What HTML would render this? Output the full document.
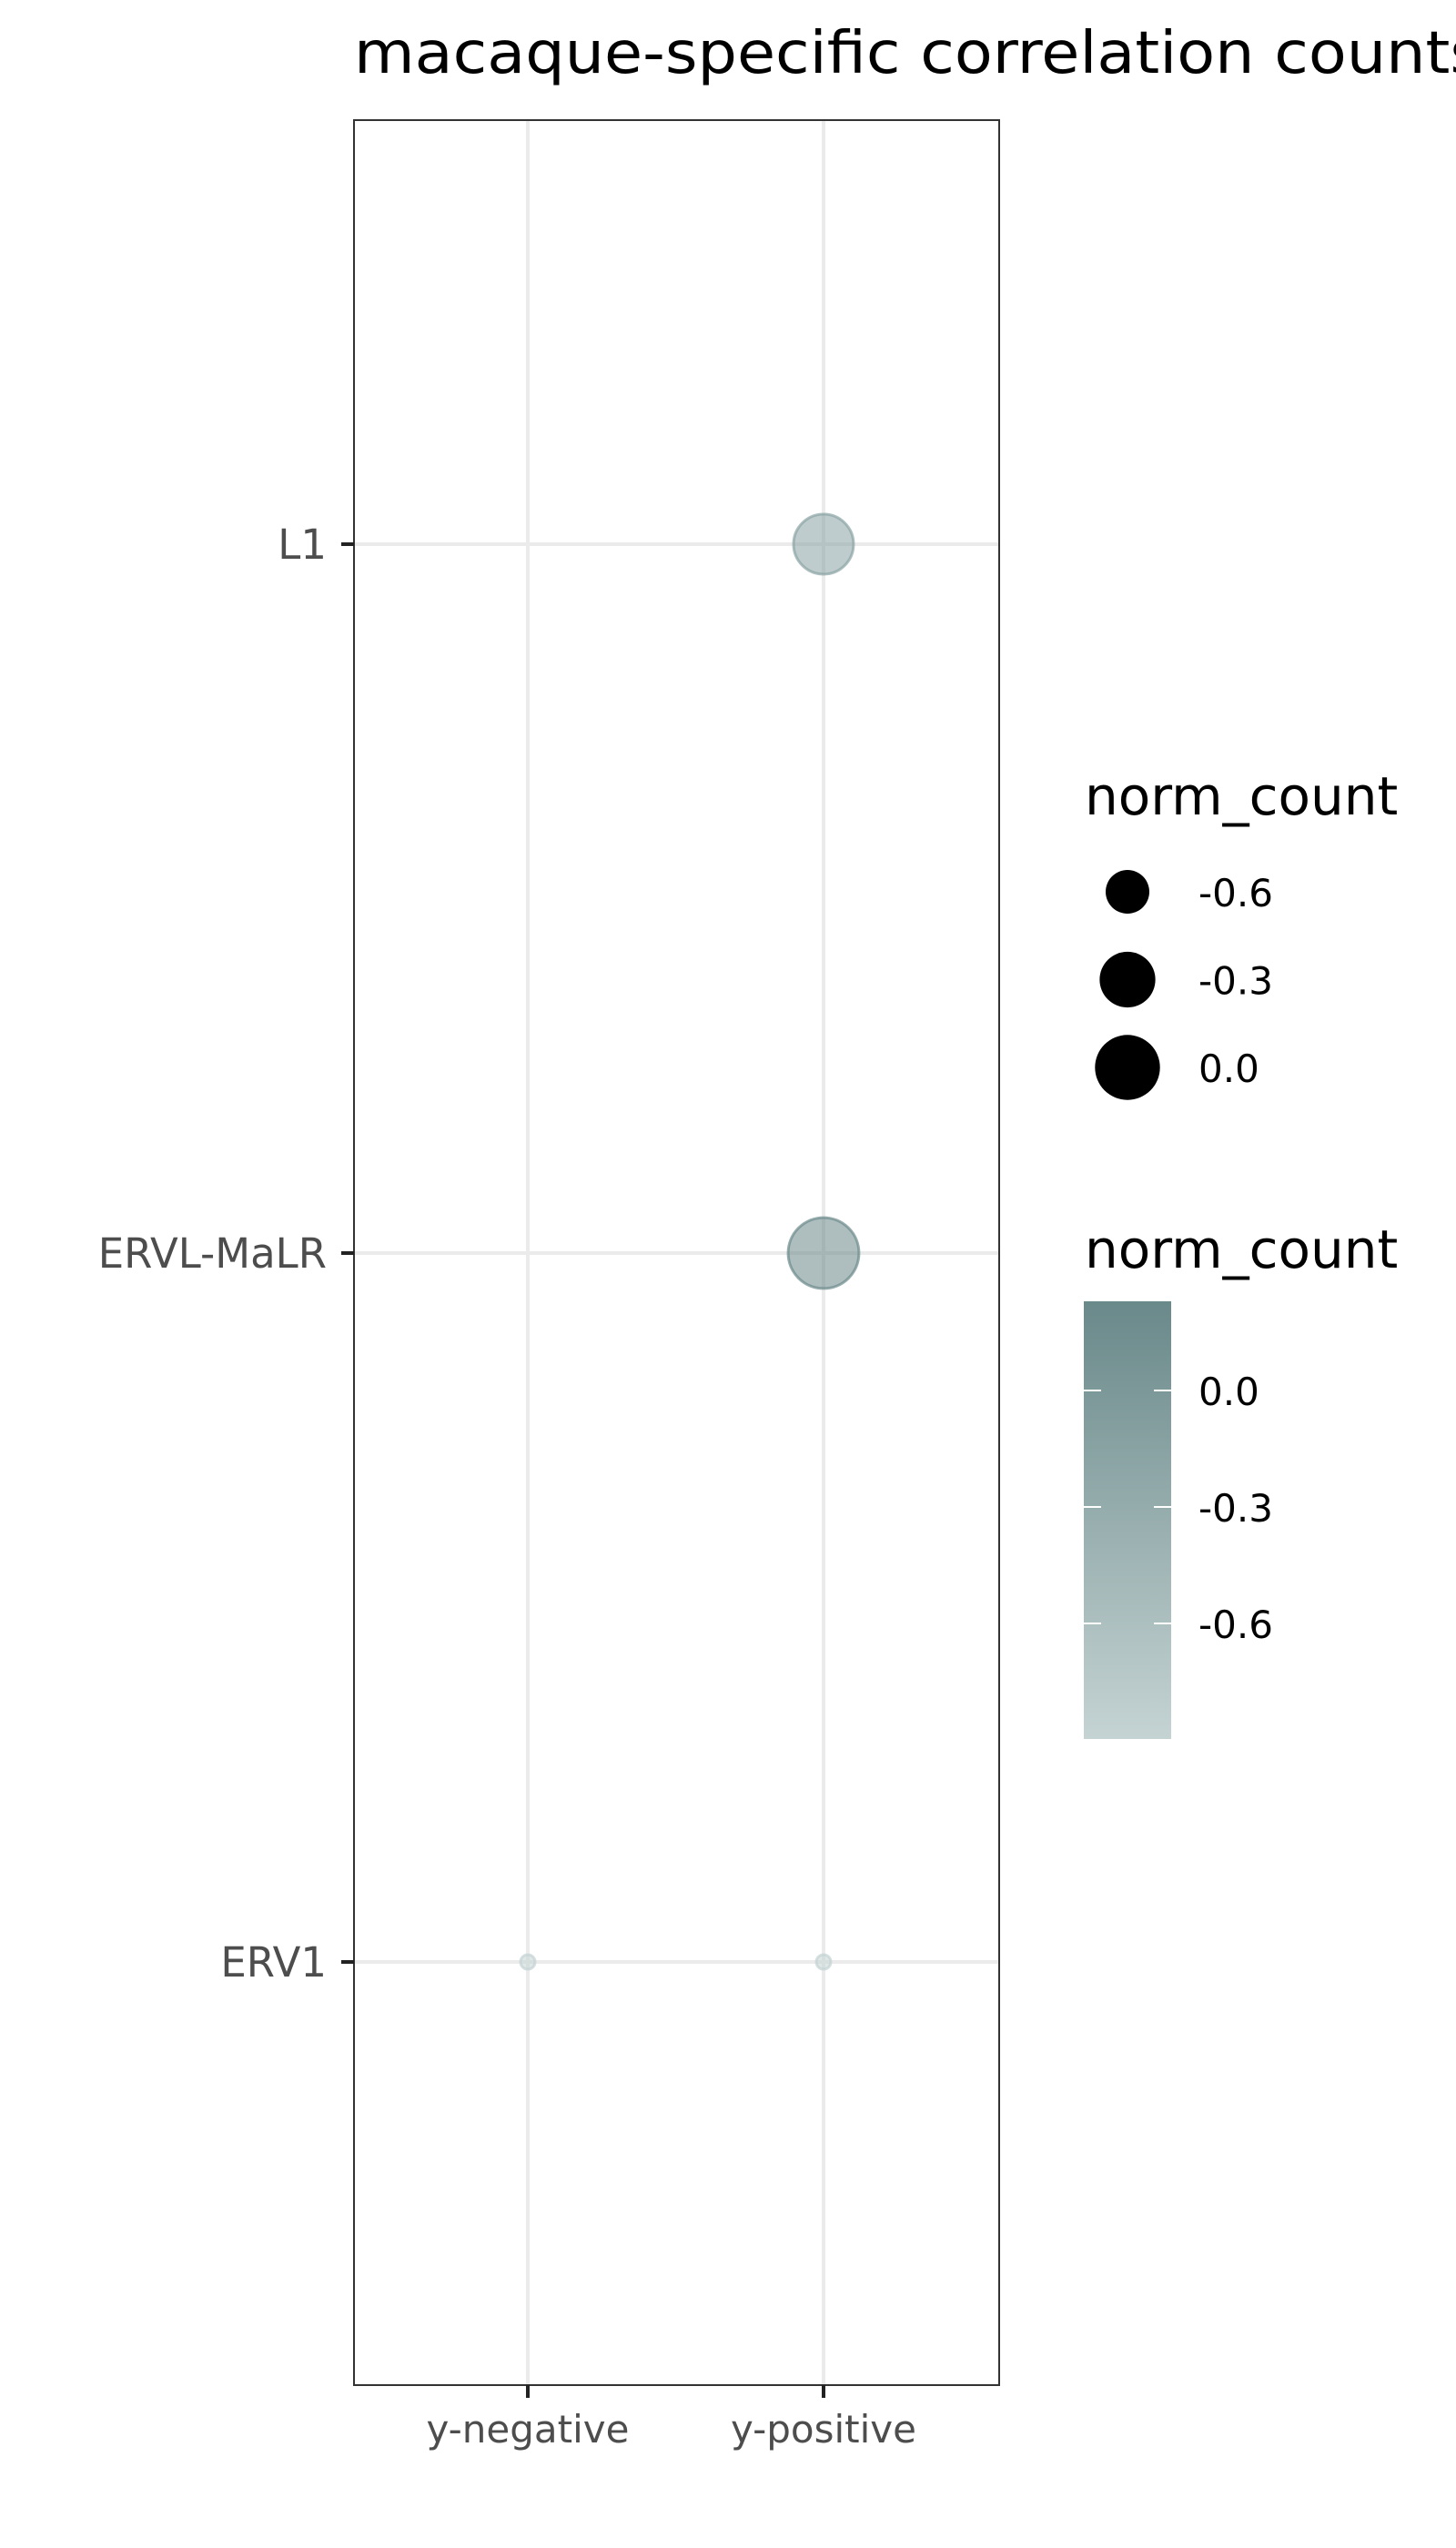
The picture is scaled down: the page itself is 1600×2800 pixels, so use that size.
<!DOCTYPE html>
<html><head><meta charset="utf-8">
<style>html,body{margin:0;padding:0;background:#fff}svg{display:block}</style>
</head><body>
<svg id="chart" width="1600" height="2800" xmlns="http://www.w3.org/2000/svg" font-family="'DejaVu Sans', 'Liberation Sans', sans-serif">
<defs>
<linearGradient id="cbgrad" x1="0" y1="1" x2="0" y2="0">
<stop offset="0" stop-color="#c5d3d3"/>
<stop offset="1" stop-color="#6a898a"/>
</linearGradient>
</defs>
<rect width="1600" height="2800" fill="#fff"/>
<text x="389" y="80" font-size="64" fill="#000" textLength="1240" lengthAdjust="spacingAndGlyphs">macaque-specific correlation counts</text>
<g id="grid"></g>
<g id="marks"></g>
<rect x="389" y="132" width="709" height="2489" fill="none" stroke="#333" stroke-width="2"/>
<g id="axes"></g>
<g id="legend"></g>
</svg>
<script>
const categories = ["L1", "ERVL-MaLR", "ERV1"];
const groups = ["y-negative", "y-positive"];
const pointCategory = ["L1", "ERVL-MaLR", "ERV1", "ERV1"];
const pointGroup = ["y-positive", "y-positive", "y-negative", "y-positive"];
const pointValue = [-0.17, 0.22, -0.9, -0.9];
const legendSizeValues = [-0.6, -0.3, 0.0];
const colorbarTicks = [0.0, -0.3, -0.6];
const colorbarTickLabels = ["0.0", "-0.3", "-0.6"];

const NS = "http://www.w3.org/2000/svg";
function mk(tag, attrs, parent){const e=document.createElementNS(NS,tag);for(const k in attrs)e.setAttribute(k,attrs[k]);parent.appendChild(e);return e;}
const vmin=-0.9, vmax=0.227;
const yPos = c => 598 + categories.indexOf(c)*779;
const xPos = g => 580 + groups.indexOf(g)*325;
const rScale = v => 8 + 31*Math.sqrt(Math.max(0,(v-vmin)/(vmax-vmin)));
function colorOf(v){const t=Math.max(0,Math.min(1,(v-vmin)/(vmax-vmin)));const a=[197,211,211],b=[106,137,138];return `rgb(${a.map((x,i)=>Math.round(x+(b[i]-x)*t)).join(",")})`;}
const cbY = v => 1528 - (v-0)*(128/0.3);

const grid=document.getElementById('grid');
categories.forEach(c=>{const l=mk('line',{x1:389,x2:1098,y1:yPos(c),y2:yPos(c),stroke:'#ebebeb','stroke-width':4},grid);
});
groups.forEach(g=>{const l=mk('line',{x1:xPos(g),x2:xPos(g),y1:132,y2:2621,stroke:'#ebebeb','stroke-width':4},grid);
});

const marks=document.getElementById('marks');
pointValue.forEach((v,i)=>{const c=mk('circle',{cx:xPos(pointGroup[i]),cy:yPos(pointCategory[i]),r:rScale(v),fill:colorOf(v),'fill-opacity':0.55,stroke:colorOf(v),'stroke-opacity':0.7,'stroke-width':3},marks);

});

const axes=document.getElementById('axes');
categories.forEach(c=>{const t=mk('line',{x1:375,x2:389,y1:yPos(c),y2:yPos(c),stroke:'#222','stroke-width':4},axes);

const tx=mk('text',{x:359,y:yPos(c)+16,'font-size':45,fill:'#4d4d4d','text-anchor':'end'},axes);tx.textContent=c;
});
groups.forEach(g=>{const t=mk('line',{x1:xPos(g),x2:xPos(g),y1:2621,y2:2635,stroke:'#222','stroke-width':4},axes);

const tx=mk('text',{x:xPos(g),y:2684,'font-size':42,fill:'#4d4d4d','text-anchor':'middle'},axes);tx.textContent=g;
});

const lg=document.getElementById('legend');
let t1=mk('text',{x:1192,y:895,'font-size':58,fill:'#000'},lg);t1.textContent='norm_count';

legendSizeValues.forEach((v,i)=>{const y=980+i*96.5;
const c=mk('circle',{cx:1239,cy:y,r:rScale(v),fill:'#000'},lg);

const tx=mk('text',{x:1317,y:y+16,'font-size':42,fill:'#000'},lg);tx.textContent=v.toFixed(1);
});
let t2=mk('text',{x:1192,y:1393,'font-size':58,fill:'#000'},lg);t2.textContent='norm_count';

const cb=mk('rect',{x:1191,y:1430,width:96,height:481,fill:'url(#cbgrad)'},lg);

colorbarTicks.forEach((v,i)=>{const y=cbY(v);
const a=mk('line',{x1:1191,x2:1210,y1:y,y2:y,stroke:'#fff','stroke-width':2},lg);

const b=mk('line',{x1:1268,x2:1287,y1:y,y2:y,stroke:'#fff','stroke-width':2},lg);

const tx=mk('text',{x:1317,y:y+16,'font-size':42,fill:'#000'},lg);tx.textContent=colorbarTickLabels[i];
});
</script>
</body></html>
